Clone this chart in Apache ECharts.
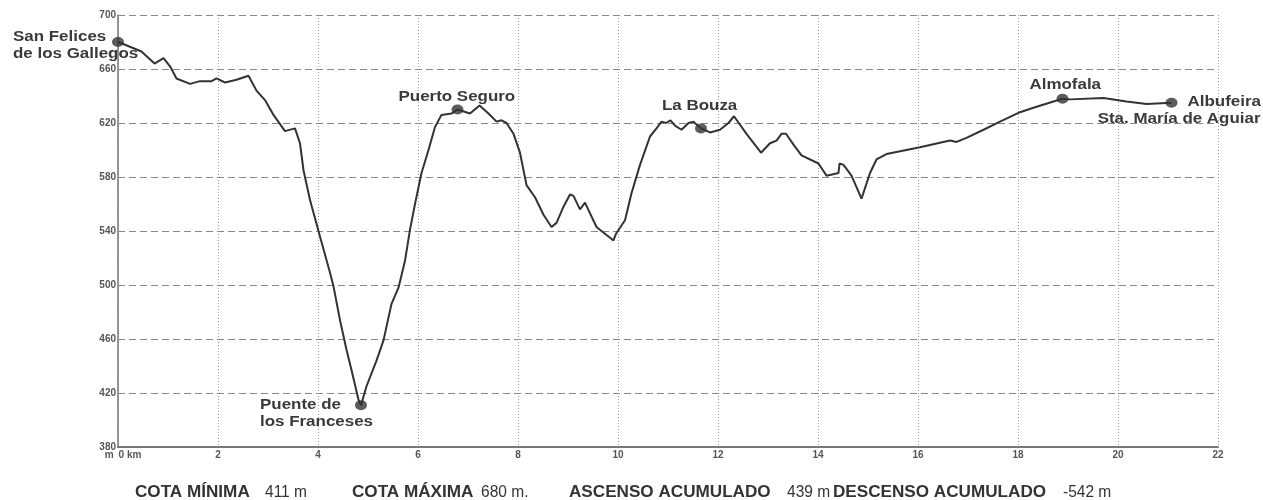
<!DOCTYPE html>
<html>
<head>
<meta charset="utf-8">
<script src="https://cdn.jsdelivr.net/npm/echarts@6/dist/echarts.min.js"></script>
<style>
  html, body { margin: 0; padding: 0; background: #ffffff; }
  #chart { width: 1263px; height: 500px; }
</style>
</head>
<body>
<div id="chart"></div>
<script>
// Elevation profile: distance along the route (km) and altitude (m)
const distanceKm = [
  0.00, 0.14, 0.47, 0.73, 0.91, 1.04, 1.17, 1.44, 1.64, 1.87, 1.97, 2.14, 2.37, 2.61, 2.77, 2.94,
  3.11, 3.34, 3.54, 3.64, 3.71, 3.84, 4.04, 4.24, 4.31, 4.44, 4.57, 4.67, 4.81, 4.86, 4.97, 5.17,
  5.31, 5.47, 5.61, 5.74, 5.84, 5.94, 6.07, 6.21, 6.34, 6.47, 6.67, 6.79, 7.04, 7.23, 7.41, 7.57,
  7.67, 7.77, 7.91, 8.04, 8.17, 8.34, 8.51, 8.67, 8.77, 8.91, 9.04, 9.11, 9.24, 9.34, 9.57, 9.77,
  9.91, 9.96, 10.14, 10.27, 10.44, 10.64, 10.77, 10.87, 10.96, 11.05, 11.14, 11.27, 11.41, 11.51,
  11.66, 11.84, 12.04, 12.21, 12.32, 12.57, 12.86, 13.04, 13.17, 13.27, 13.36, 13.51, 13.67, 14.01,
  14.17, 14.41, 14.43, 14.51, 14.67, 14.87, 15.04, 15.17, 15.37, 16.04, 16.64, 16.77, 16.97, 17.31,
  17.64, 18.04, 18.37, 18.89, 19.04, 19.71, 20.17, 20.57, 21.07
];
const elevationM = [
  680, 678, 673, 664, 668, 662, 653, 649, 651, 651, 653, 650, 652, 655, 644, 637,
  626, 614, 616, 605, 585, 563, 536, 509, 499, 474, 452, 437, 415, 411, 425, 444,
  459, 486, 498, 518, 541, 560, 583, 600, 617, 626, 627, 630, 627, 633, 627, 621,
  622, 620, 612, 598, 574, 565, 552, 543, 546, 558, 567, 566, 556, 561, 543, 537,
  533, 538, 548, 568, 589, 610, 616, 621, 620, 622, 618, 615, 620, 621,
  616, 613, 615, 620, 625, 612, 598, 605, 607, 612, 612, 604, 596, 590,
  581, 583, 590, 589, 581, 564, 583, 593, 597, 602, 607, 606, 609, 615,
  621, 628, 632, 638, 637.5, 638.5, 636, 634, 635
];

// Named places along the route
const placeNames = [
  ['San Felices', 'de los Gallegos'],
  ['Puente de', 'los Franceses'],
  ['Puerto Seguro'],
  ['La Bouza'],
  ['Almofala'],
  ['Albufeira', 'Sta. María de Aguiar']
];
const placeKm = [0.00, 4.86, 6.79, 11.66, 18.89, 21.07];
const placeElev = [680, 411, 630, 616, 638, 635];

// Route summary
const statNames = ['COTA MÍNIMA', 'COTA MÁXIMA', 'ASCENSO ACUMULADO', 'DESCENSO ACUMULADO'];
const statValues = ['411 m', '680 m.', '439 m', '-542 m'];

// Axis ticks
const kmTicks = { min: 0, max: 22, step: 2, unit: 'km' };
const altTicks = { min: 380, max: 700, step: 40, unit: 'm' };

// ---- layout of the place names relative to their marker (px) ----
const placeLabelLayout = [
  [{ dx: -105, dy: -5, align: 'left' }, { dx: -105, dy: 12, align: 'left' }],
  [{ dx: -101, dy: 0, align: 'left' }, { dx: -101, dy: 17, align: 'left' }],
  [{ dx: -59, dy: -12, align: 'left' }],
  [{ dx: -39, dy: -22, align: 'left' }],
  [{ dx: -33, dy: -14, align: 'left' }],
  [{ dx: 16, dy: -1, align: 'left' }, { dx: 89, dy: 16, align: 'right' }]
];
const statNameLeft = [135, 352, 569, 833];
const statValueLeft = [265, 481, 787, 1063];
const statCenterY = 493;

const axisFont = '"Liberation Sans", Arial, sans-serif';
const narrowFont = '"Liberation Sans Narrow", "Liberation Sans", Arial, sans-serif';

const chart = echarts.init(document.getElementById('chart'), null, { renderer: 'canvas' });

const option = {
  animation: false,
  backgroundColor: '#ffffff',
  grid: { left: 118, right: 45, top: 15, bottom: 53, containLabel: false },
  xAxis: {
    type: 'value',
    min: kmTicks.min,
    max: kmTicks.max,
    interval: kmTicks.step,
    axisLine: { show: true, onZero: false, lineStyle: { color: '#777777', width: 2 } },
    axisTick: { show: false },
    axisLabel: {
      margin: 3,
      color: '#555555',
      fontSize: 10,
      fontWeight: 'bold',
      fontFamily: narrowFont,
      // first label carries both units: altitude (m) left of the axis, distance (km) right of it
      formatter: v => (v === kmTicks.min ? '{u|' + altTicks.unit + '}{k|0 ' + kmTicks.unit + '}' : String(v)),
      rich: {
        u: { fontSize: 10, fontWeight: 'bold', color: '#555555', fontFamily: axisFont, padding: [0, 5, 0, 10] },
        k: { fontSize: 10, fontWeight: 'bold', color: '#555555', fontFamily: axisFont }
      }
    },
    splitLine: { show: true, lineStyle: { color: '#9a9a9a', width: 1, type: [1, 2] } }
  },
  yAxis: {
    type: 'value',
    min: altTicks.min,
    max: altTicks.max,
    interval: altTicks.step,
    axisLine: { show: true, lineStyle: { color: '#777777', width: 1.5 } },
    axisTick: { show: false },
    axisLabel: {
      margin: 2,
      color: '#555555',
      fontSize: 10,
      fontWeight: 'bold',
      fontFamily: axisFont
    },
    splitLine: { show: true, lineStyle: { color: '#888888', width: 1, type: [7, 4] } }
  },
  series: [
    {
      type: 'line',
      data: distanceKm.map((d, i) => [d, elevationM[i]]),
      symbol: 'none',
      lineStyle: { color: '#333333', width: 2 },
      z: 3
    },
    {
      type: 'scatter',
      data: placeKm.map((d, i) => [d, placeElev[i]]),
      symbol: 'circle',
      symbolSize: [12, 10],
      itemStyle: { color: '#333333' },
      z: 4
    }
  ]
};

chart.setOption(option);

// Place names and summary row, placed once the axes are laid out
const graphics = [];
placeLabelLayout.forEach((lines, i) => {
  const pt = chart.convertToPixel({ gridIndex: 0 }, [placeKm[i], placeElev[i]]);
  lines.forEach((ln, j) => {
    graphics.push({
      type: 'text',
      x: pt[0] + ln.dx,
      y: pt[1] + ln.dy,
      scaleX: 1.21,
      z: 100,
      style: {
        text: placeNames[i][j],
        font: 'bold 14px ' + axisFont,
        fill: '#3a3a3a',
        align: ln.align,
        verticalAlign: 'middle'
      }
    });
  });
});
statNames.forEach((name, i) => {
  graphics.push({
    type: 'text', x: statNameLeft[i], y: statCenterY, scaleX: 1.07, z: 100,
    style: { text: name, font: 'bold 16px ' + axisFont, fill: '#333333', align: 'left', verticalAlign: 'middle' }
  });
  graphics.push({
    type: 'text', x: statValueLeft[i], y: statCenterY, scaleX: 0.97, z: 100,
    style: { text: statValues[i], font: '16px ' + axisFont, fill: '#333333', align: 'left', verticalAlign: 'middle' }
  });
});
chart.setOption({ graphic: graphics });
</script>
</body>
</html>
